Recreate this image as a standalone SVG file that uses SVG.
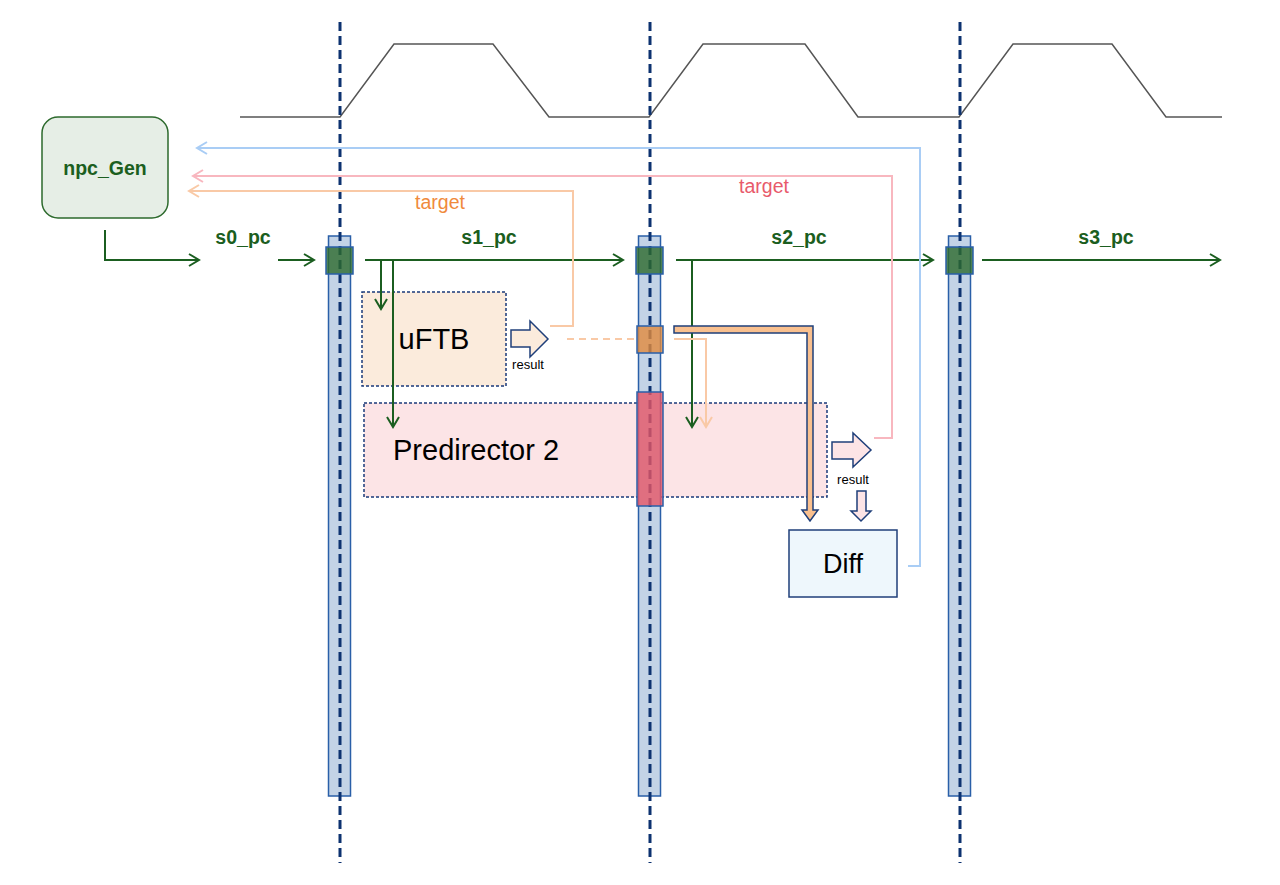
<svg xmlns="http://www.w3.org/2000/svg" width="1280" height="885" viewBox="0 0 1280 885">
<style>
.lbl{font-family:"Liberation Sans",Arial,sans-serif;font-weight:bold;font-size:19.5px;fill:#1b5e20;text-anchor:middle}
.big{font-family:"Liberation Sans",Arial,sans-serif;font-size:29px;fill:#000}
.small{font-family:"Liberation Sans",Arial,sans-serif;font-size:13px;fill:#000;text-anchor:middle}
.tgt{font-family:"Liberation Sans",Arial,sans-serif;font-size:19.5px;text-anchor:middle}
.bar{fill:#c3d3e6;stroke:#2a5fa8;stroke-width:1.5}
.vdash{stroke:#0d3270;stroke-width:3;stroke-dasharray:9 5;fill:none}
.blk{stroke:#2a5fa8;stroke-width:1.5;fill-opacity:0.8}
.g{stroke:#1b5e20;stroke-width:2;fill:none}
.box{stroke:#1a3a7a;stroke-width:1.5;stroke-dasharray:3 2}
.barrow{stroke:#1f3f7a;stroke-width:1.5}
</style>
<defs>
<marker id="ag" markerUnits="userSpaceOnUse" markerWidth="14" markerHeight="16" refX="12" refY="7" orient="auto"><path d="M2,1 L12,7 L2,13" fill="none" stroke="#1b5e20" stroke-width="2"/></marker>
<marker id="ao" markerUnits="userSpaceOnUse" markerWidth="14" markerHeight="16" refX="12" refY="7" orient="auto"><path d="M2,1 L12,7 L2,13" fill="none" stroke="#f9c9a6" stroke-width="2"/></marker>
<marker id="ap" markerUnits="userSpaceOnUse" markerWidth="14" markerHeight="16" refX="12" refY="7" orient="auto"><path d="M2,1 L12,7 L2,13" fill="none" stroke="#f8b7bf" stroke-width="2"/></marker>
<marker id="ab" markerUnits="userSpaceOnUse" markerWidth="14" markerHeight="16" refX="12" refY="7" orient="auto"><path d="M2,1 L12,7 L2,13" fill="none" stroke="#a9cdf5" stroke-width="2"/></marker>
</defs>
<rect width="1280" height="885" fill="#fff"/>

<g id="clock">
<polyline points="240,117 340,117 394,44 493,44 549,117 649,117 703,44 805,44 858,117 959,117 1013,44 1112,44 1166,117 1222,117" fill="none" stroke="#555" stroke-width="1.5"/>
</g>

<g id="npc_Gen">
<rect x="42" y="117" width="126" height="101" rx="16" fill="#e6eee6" stroke="#2d6a2d" stroke-width="1.5"/>
<text class="lbl" x="105" y="175">npc_Gen</text>
</g>

<g id="uFTB">
<rect class="box" x="362" y="292" width="144" height="94" fill="#fbebdc"/>
<text class="big" x="434" y="349" text-anchor="middle">uFTB</text>
<polygon class="barrow" points="511,330 530,330 530,321 548,339 530,357 530,347 511,347" fill="#fbebdc"/>
<text class="small" x="528" y="369">result</text>
</g>

<g id="predictor2">
<rect class="box" x="364" y="403" width="463" height="94" fill="#fce4e6"/>
<text class="big" x="393" y="460">Predirector 2</text>
<polygon class="barrow" points="832,442 853,442 853,433 871,450 853,467 853,459 832,459" fill="#fce4e6"/>
<text class="small" x="853" y="484">result</text>
<polygon class="barrow" points="857,491 866,491 866,511 871,511 861,521 851,511 857,511" fill="#fce4e6"/>
</g>

<g id="diff">
<rect x="789" y="530" width="108" height="67" fill="#eef7fc" stroke="#1f3f7a" stroke-width="1.5"/>
<text class="big" x="843" y="573" text-anchor="middle" style="font-size:27px">Diff</text>
</g>

<g id="pipeline-regs">
<rect class="bar" x="328.5" y="236" width="22" height="560"/>
<rect class="bar" x="638.5" y="236" width="22" height="560"/>
<rect class="bar" x="948.5" y="236" width="22" height="560"/>
<line class="vdash" x1="340" y1="22" x2="340" y2="863"/>
<line class="vdash" x1="650" y1="22" x2="650" y2="863"/>
<line class="vdash" x1="960" y1="22" x2="960" y2="863"/>
<rect class="blk" x="326" y="247" width="27" height="27" fill="#2d6a2d"/>
<rect class="blk" x="636" y="247" width="27" height="27" fill="#2d6a2d"/>
<rect class="blk" x="946" y="247" width="27" height="27" fill="#2d6a2d"/>
<rect class="blk" x="637" y="326" width="26" height="27" fill="#e28b3d"/>
<rect class="blk" x="637" y="392" width="26" height="114" fill="#e75666"/>
</g>

<g id="connectors">
<polyline class="g" points="105,230 105,260 199,260" marker-end="url(#ag)"/>
<line class="g" x1="278" y1="260" x2="314" y2="260" marker-end="url(#ag)"/>
<line class="g" x1="365" y1="260" x2="623" y2="260" marker-end="url(#ag)"/>
<line class="g" x1="381" y1="260" x2="381" y2="309" marker-end="url(#ag)"/>
<line class="g" x1="393" y1="260" x2="393" y2="427" marker-end="url(#ag)"/>
<line class="g" x1="676" y1="260" x2="933" y2="260" marker-end="url(#ag)"/>
<line class="g" x1="692" y1="260" x2="692" y2="427" marker-end="url(#ag)"/>
<line class="g" x1="982" y1="260" x2="1220" y2="260" marker-end="url(#ag)"/>
<polyline points="550,326 573,326 573,191 189,191" fill="none" stroke="#f9c9a6" stroke-width="2" marker-end="url(#ao)"/>
<polyline points="874,438 892,438 892,176 193,176" fill="none" stroke="#f8b7bf" stroke-width="2" marker-end="url(#ap)"/>
<polyline points="908,566 920,566 920,148 197,148" fill="none" stroke="#a9cdf5" stroke-width="2" marker-end="url(#ab)"/>
<line x1="567" y1="339" x2="634" y2="339" stroke="#f9c9a6" stroke-width="2" stroke-dasharray="7 5"/>
<polyline points="674,339 706,339 706,427" fill="none" stroke="#f9c9a6" stroke-width="2" marker-end="url(#ao)"/>
<polygon points="674,326 813,326 813,510 818,510 810,521 802,510 807,510 807,333 674,333" fill="#f9c08f" stroke="#1f3f7a" stroke-width="1.5"/>
<text class="tgt" x="440" y="209" fill="#f08a3c">target</text>
<text class="tgt" x="764" y="193" fill="#e85a6b">target</text>
<text class="lbl" x="243" y="244">s0_pc</text>
<text class="lbl" x="489" y="244">s1_pc</text>
<text class="lbl" x="799" y="244">s2_pc</text>
<text class="lbl" x="1106" y="244">s3_pc</text>
</g>
</svg>
